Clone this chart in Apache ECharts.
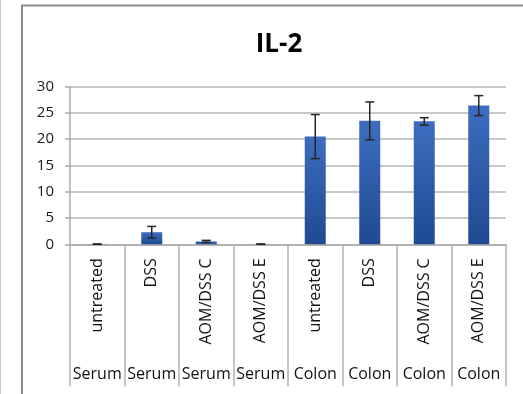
<!DOCTYPE html>
<html>
<head>
<meta charset="utf-8">
<script src="https://cdn.jsdelivr.net/npm/echarts@6/dist/echarts.min.js"></script>
<style>
  html, body { margin: 0; padding: 0; background: #fff; }
  #chart { width: 523px; height: 394px; }
</style>
</head>
<body>
<div id="chart"></div>
<script>
// IL-2 levels per treatment, serum and colon samples
const treatments = ['untreated', 'DSS', 'AOM/DSS C', 'AOM/DSS E', 'untreated', 'DSS', 'AOM/DSS C', 'AOM/DSS E'];
const tissues = ['Serum', 'Serum', 'Serum', 'Serum', 'Colon', 'Colon', 'Colon', 'Colon'];
const il2Mean = [0.03, 2.3, 0.55, 0.03, 20.5, 23.5, 23.4, 26.4];
const il2Err = [0.03, 1.1, 0.2, 0.03, 4.2, 3.6, 0.7, 1.9];
const yTicks = [0, 5, 10, 15, 20, 25, 30];

const chart = echarts.init(document.getElementById('chart'));
const font = '"Open Sans", sans-serif';

chart.setOption({
  backgroundColor: '#fff',
  animation: false,
  title: {
    text: 'IL-2',
    left: 274,
    textAlign: 'center',
    top: 27,
    textStyle: { fontFamily: font, fontWeight: 'bold', fontSize: 26, color: '#000' }
  },
  grid: { left: 70, right: 17, top: 86.7, bottom: 149.7 },
  graphic: [
    { type: 'line', shape: { x1: 0.5, y1: 0, x2: 0.5, y2: 394 }, style: { stroke: '#c8c8c8', lineWidth: 1 } },
    { type: 'line', shape: { x1: 22, y1: 5.5, x2: 22, y2: 394 }, style: { stroke: '#8c8c8c', lineWidth: 2 } },
    { type: 'line', shape: { x1: 21, y1: 5.5, x2: 523, y2: 5.5 }, style: { stroke: '#8c8c8c', lineWidth: 2 } }
  ],
  xAxis: [
    {
      type: 'category',
      data: treatments,
      position: 'bottom',
      axisLine: { lineStyle: { color: '#aaaaaa', width: 1.5 } },
      axisTick: { show: true, length: 142, interval: 0, lineStyle: { color: '#b2b2b2', width: 1.5 } },
      axisLabel: {
        interval: 0, rotate: 90, margin: 14,
        fontFamily: font, fontSize: 16, color: '#111'
      }
    },
    {
      type: 'category',
      data: treatments.map((t, i) => i),
      position: 'bottom',
      axisLine: { show: false },
      axisTick: { show: false },
      axisLabel: {
        interval: 0, margin: 122,
        fontFamily: font, fontSize: 16, color: '#111',
        formatter: (v, i) => tissues[i]
      }
    }
  ],
  yAxis: {
    type: 'value',
    min: yTicks[0],
    max: yTicks[yTicks.length - 1],
    interval: yTicks[1] - yTicks[0],
    axisLine: { show: true, lineStyle: { color: '#aaaaaa', width: 1.5 } },
    axisTick: { show: true, length: 5, lineStyle: { color: '#aaaaaa', width: 1.5 } },
    splitLine: { lineStyle: { color: '#b6b6b6', width: 1.5 } },
    axisLabel: { margin: 16, fontFamily: font, fontSize: 15, color: '#1a1a1a' }
  },
  series: [
    {
      type: 'bar',
      data: il2Mean,
      barWidth: 21,
      itemStyle: {
        color: new echarts.graphic.LinearGradient(0, 0, 0, 1, [
          { offset: 0, color: '#3d6dbf' },
          { offset: 1, color: '#1f4a93' }
        ])
      }
    },
    {
      type: 'custom',
      data: il2Mean.map((m, i) => [i, m, il2Err[i]]),
      z: 10,
      renderItem: (params, api) => {
        const i = api.value(0), m = api.value(1), e = api.value(2);
        const top = api.coord([i, m + e]);
        const bot = api.coord([i, m - e]);
        const hw = 4.5;
        const style = { stroke: '#262626', lineWidth: 1.5 };
        return {
          type: 'group',
          children: [
            { type: 'line', shape: { x1: top[0], y1: top[1], x2: bot[0], y2: bot[1] }, style },
            { type: 'line', shape: { x1: top[0] - hw, y1: top[1], x2: top[0] + hw, y2: top[1] }, style },
            { type: 'line', shape: { x1: bot[0] - hw, y1: bot[1], x2: bot[0] + hw, y2: bot[1] }, style }
          ]
        };
      }
    }
  ]
});
</script>
</body>
</html>
